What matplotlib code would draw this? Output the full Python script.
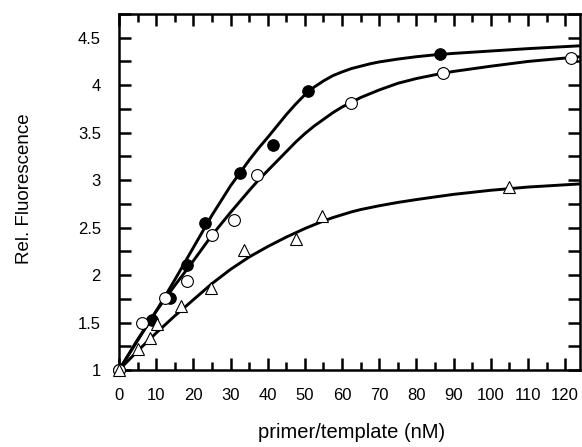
import matplotlib
matplotlib.use("Agg")
import matplotlib.pyplot as plt
from matplotlib.ticker import MultipleLocator

plt.rcParams['font.family'] = ['Liberation Sans', 'DejaVu Sans']

# measured points
filled_x = [0, 8.8, 13.65, 18.2, 23.05, 32.45, 41.45, 50.85, 86.25]
filled_y = [1.0, 1.53, 1.755, 2.11, 2.55, 3.07, 3.37, 3.94, 4.33]

open_x = [0, 6.05, 12.25, 18.4, 24.9, 30.95, 37.2, 62.3, 87.15, 121.5]
open_y = [1.0, 1.50, 1.755, 1.94, 2.42, 2.58, 3.05, 3.81, 4.13, 4.29]

tri_x = [0, 5.1, 8.3, 10.3, 16.7, 24.65, 33.55, 47.7, 54.7, 104.85]
tri_y = [1.0, 1.22, 1.34, 1.48, 1.67, 1.86, 2.26, 2.38, 2.62, 2.93]

# fitted curves
curve_x = [0, 5, 10, 15, 20, 25, 30, 35, 37.5, 40, 42.5, 45, 47.5, 50, 52.5, 55, 57.5,
           60, 62.5, 65, 67.5, 70, 75, 80, 85, 90, 100, 110, 124]
fit_filled = [1.00, 1.31, 1.62, 1.95, 2.29, 2.63, 2.94, 3.21, 3.335, 3.45, 3.57, 3.69, 3.80,
              3.90, 3.98, 4.045, 4.10, 4.14, 4.175, 4.20, 4.225, 4.245, 4.275, 4.30, 4.32,
              4.335, 4.36, 4.385, 4.415]
fit_open = [1.00, 1.32, 1.62, 1.89, 2.15, 2.42, 2.66, 2.89, 3.00, 3.10, 3.20, 3.30, 3.40,
            3.49, 3.57, 3.64, 3.71, 3.77, 3.82, 3.87, 3.91, 3.95, 4.02, 4.07, 4.11,
            4.145, 4.20, 4.25, 4.30]
fit_tri = [1.00, 1.20, 1.39, 1.57, 1.74, 1.91, 2.06, 2.19, 2.245, 2.30, 2.35, 2.40, 2.445,
           2.49, 2.53, 2.57, 2.605, 2.635, 2.665, 2.69, 2.71, 2.73, 2.765, 2.795, 2.823,
           2.85, 2.893, 2.927, 2.96]

xticks = list(range(0, 121, 10))
yticks = [1, 1.5, 2, 2.5, 3, 3.5, 4, 4.5]
ytick_labels = ['1', '1.5', '2', '2.5', '3', '3.5', '4', '4.5']

fig = plt.figure(figsize=(5.82, 4.47), dpi=100)
ax = fig.add_axes([0.2045, 0.1723, 0.7921, 0.7964])

lw = 2.1
for ys in (fit_filled, fit_open, fit_tri):
    ax.plot(curve_x, ys, color='black', lw=lw, zorder=2, solid_capstyle='butt')

ax.plot(filled_x, filled_y, 'o', ms=8.3, mfc='black', mec='black', mew=0.8, zorder=3, clip_on=False)
ax.plot(open_x, open_y, 'o', ms=8.5, mfc='white', mec='black', mew=0.8, zorder=3, clip_on=False)
ax.plot(tri_x, tri_y, '^', ms=8, mfc='white', mec='black', mew=0.8, zorder=3, clip_on=False)

ax.set_xlim(0, 124)
ax.set_ylim(1, 4.75)
ax.set_xticks(xticks)
ax.set_xticklabels([str(v) for v in xticks])
ax.set_yticks(yticks)
ax.set_yticklabels(ytick_labels)
ax.xaxis.set_minor_locator(MultipleLocator(5))
ax.yaxis.set_minor_locator(MultipleLocator(0.25))

ax.tick_params(axis='both', which='both', direction='in', top=True, right=True, width=1.8,
               labelsize=12)
ax.tick_params(axis='x', which='major', length=8.5, pad=13)
ax.tick_params(axis='x', which='minor', length=5.5)
ax.tick_params(axis='y', which='major', length=8.5, pad=13)
ax.tick_params(axis='y', which='minor', length=8.5)

for s in ax.spines.values():
    s.set_linewidth(1.8)

ax.set_xlabel('primer/template (nM)', fontsize=14.5, va='center')
ax.xaxis.set_label_coords(0.505, -0.177)
ax.set_ylabel('Rel. Fluorescence', fontsize=13.5, va='center')
ax.yaxis.set_label_coords(-0.206, 0.51)

fig.savefig('out.png', dpi=100)
